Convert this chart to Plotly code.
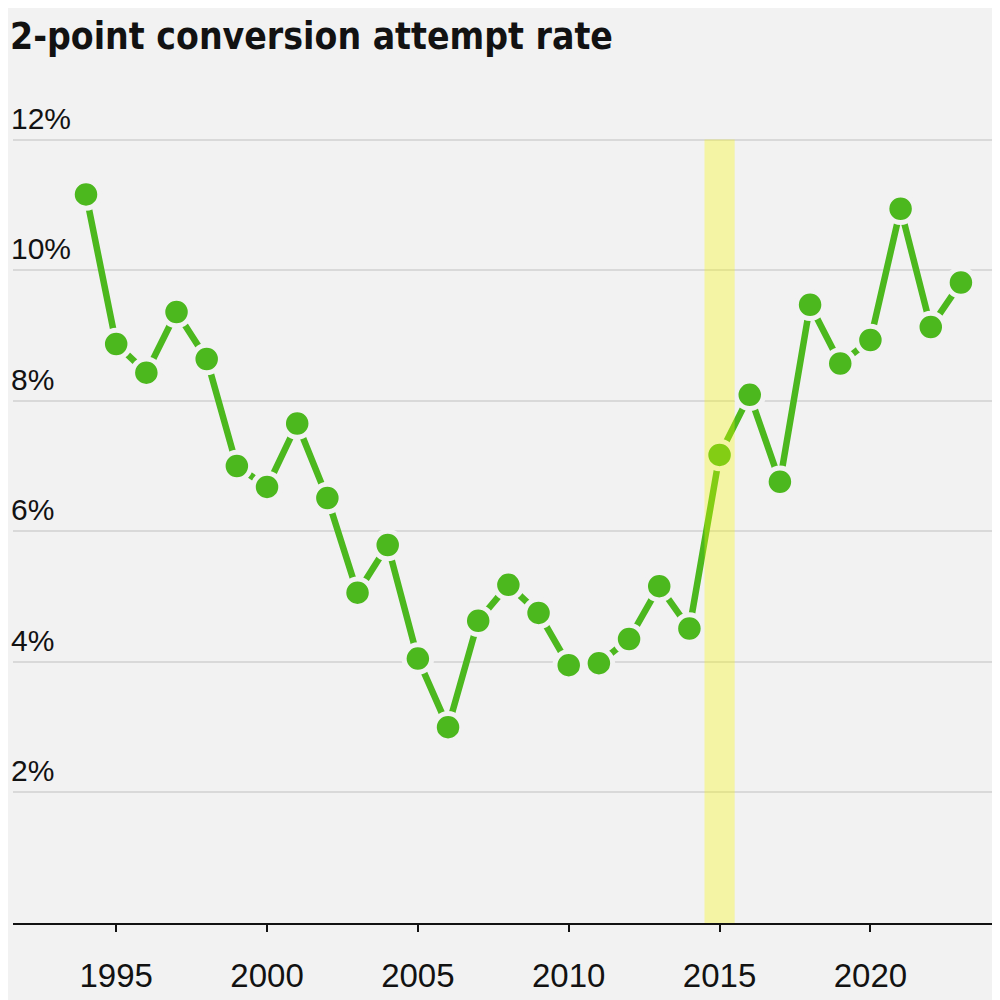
import plotly.graph_objects as go

years = list(range(1994, 2024))
rates = [11.16, 8.87, 8.43, 9.36, 8.64, 7.00, 6.68, 7.65, 6.51, 5.06,
         5.79, 4.05, 3.00, 4.63, 5.18, 4.75, 3.95, 3.98, 4.35, 5.16,
         4.51, 7.17, 8.09, 6.76, 9.47, 8.57, 8.93, 10.94, 9.13, 9.81]

y_ticks = [2, 4, 6, 8, 10, 12]
y_tick_labels = ["2%", "4%", "6%", "8%", "10%", "12%"]
x_ticks = [1995, 2000, 2005, 2010, 2015, 2020]
x_tick_labels = ["1995", "2000", "2005", "2010", "2015", "2020"]
highlight_year = 2015

title = "2-point conversion attempt rate"

GREEN = "#4cb81e"
BG = "#f2f2f2"
FONT = "Liberation Sans, Arial, sans-serif"

fig = go.Figure()
fig.add_trace(go.Scatter(
    x=years, y=rates, mode="lines+markers",
    line=dict(color=GREEN, width=6.5),
    marker=dict(color=GREEN, size=27.5, line=dict(color=BG, width=5)),
    hoverinfo="x+y", showlegend=False,
))

fig.add_shape(type="rect", xref="x", yref="y",
              x0=highlight_year - 0.5, x1=highlight_year + 0.5, y0=0, y1=12,
              fillcolor="rgba(248,250,0,0.32)", line=dict(width=0), layer="above")

annotations = [dict(
    text=f"<b>{title}</b>", xref="paper", yref="paper", x=0, y=1,
    xshift=-5, yshift=107, xanchor="left", yanchor="top", showarrow=False,
    font=dict(family="Liberation Sans Narrow, DejaVu Sans Condensed, Arial Narrow, sans-serif",
              size=37, color="#121212"),
)]
for v, lab in zip(y_ticks, y_tick_labels):
    annotations.append(dict(
        text=lab, xref="paper", yref="y", x=0, y=v, xanchor="left", yanchor="bottom",
        xshift=-4, yshift=3, showarrow=False,
        font=dict(family=FONT, size=30, color="#121212"),
    ))

fig.update_layout(
    width=1000, height=1000,
    paper_bgcolor=BG, plot_bgcolor=BG,
    margin=dict(l=5, r=16, t=112, b=85),
    annotations=annotations,
    xaxis=dict(
        range=[1991.58, 2024.03], tickmode="array", tickvals=x_ticks, ticktext=x_tick_labels,
        showgrid=False, zeroline=False, showline=True, linecolor="#121212", linewidth=2,
        ticks="outside", ticklen=7, tickwidth=2, tickcolor="#121212",
        ticklabelstandoff=15,
        tickfont=dict(family=FONT, size=33, color="#121212"),
    ),
    yaxis=dict(
        range=[0, 12.3], tickmode="array", tickvals=y_ticks, showticklabels=False,
        showgrid=True, gridcolor="#d9d9d9", gridwidth=2, zeroline=False, showline=False,
    ),
)

fig.write_html("out.html")
